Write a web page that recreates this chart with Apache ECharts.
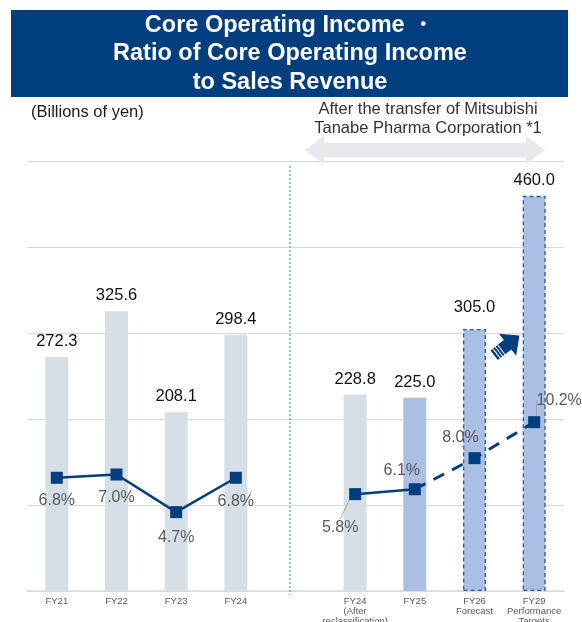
<!DOCTYPE html>
<html>
<head>
<meta charset="utf-8">
<script src="https://cdn.jsdelivr.net/npm/echarts@6/dist/echarts.min.js"></script>
<style>
html,body{margin:0;padding:0;background:#fff;}
#c{width:582px;height:622px;}
</style>
</head>
<body>
<div id="c"></div>
<script>
// ---- data ----
var categories = ['FY21', 'FY22', 'FY23', 'FY24', '', 'FY24\n(After\nreclassification)', 'FY25', 'FY26\nForecast', 'FY29\nPerformance\nTargets'];
var coreIncome = [272.3, 325.6, 208.1, 298.4, null, 228.8, 225.0, 305.0, 460.0];
var ratioPct = [6.8, 7.0, 4.7, 6.8, null, 5.8, 6.1, 8.0, 10.2];
var titleLines = ['Core Operating Income \u30fb', 'Ratio of Core Operating Income', 'to Sales Revenue'];
var unitText = '(Billions of yen)';
var transferText = 'After the transfer of Mitsubishi\nTanabe Pharma Corporation *1';

// ---- styles ----
var FONT = 'Arial, "Liberation Sans", sans-serif';
var NAVY = '#003E7E';
var GRAY_BAR = '#d6dfe5';
var BLUE_BAR = '#aabfe3';
var DASH_BORDER = '#2a5aa0';

// label offsets relative to marker centre (layout only)
var labelOffsets = {0:[0,23],1:[0,23],2:[0,25],3:[0,24],5:[-15,33],6:[-13,-19],7:[-14,-21],8:[25,-22]};
var withLeader = {5:true,7:true,8:true};

var barData = coreIncome.map(function (v, i) {
  if (v == null) return null;
  var item = { value: v, itemStyle: { color: i >= 6 ? BLUE_BAR : GRAY_BAR } };
  if (i >= 7) {
    item.itemStyle.borderColor = DASH_BORDER;
    item.itemStyle.borderWidth = 1.3;
    item.itemStyle.borderType = [4, 3];
  }
  if (i === 7) item.label = { distance: 13 };
  return item;
});

function lineItem(i) {
  return { value: ratioPct[i], labelLine: { show: !!withLeader[i], lineStyle: { color: '#a6a6a6', width: 1 } } };
}
var solidData = ratioPct.map(function (v, i) {
  return (i <= 3 || i === 5 || i === 6) ? lineItem(i) : null;
});
var dashData = ratioPct.map(function (v, i) {
  if (i === 6) return { value: v, symbol: 'none', label: { show: false } };
  if (i >= 7) return lineItem(i);
  return null;
});

var pctLabel = {
  show: true, position: 'inside', fontSize: 16, color: '#595959', fontFamily: FONT,
  formatter: function (p) { return p.value.toFixed(1) + '%'; }
};
function layoutFn(p) {
  var o = labelOffsets[p.dataIndex] || [0, 0];
  return { dx: o[0], dy: o[1] };
}

var chart = echarts.init(document.getElementById('c'), null, { renderer: 'canvas' });
chart.setOption({
  animation: false,
  backgroundColor: '#fff',
  grid: { left: 27, right: 18, top: 161.5, bottom: 31, containLabel: false, outerBoundsMode: 'none' },
  xAxis: {
    type: 'category', data: categories, boundaryGap: true,
    axisLine: { lineStyle: { color: '#d9d9d9', width: 1.5 } },
    axisTick: { show: false },
    axisLabel: { fontSize: 9.5, color: '#595959', lineHeight: 10, margin: 5, interval: 0, fontFamily: FONT }
  },
  yAxis: [
    { type: 'value', min: 0, max: 500, interval: 100,
      axisLabel: { show: false }, axisLine: { show: false }, axisTick: { show: false },
      splitLine: { lineStyle: { color: '#d9d9d9', width: 1.2 } } },
    { type: 'value', min: -0.12, max: 26.13, show: false, splitLine: { show: false } }
  ],
  series: [
    { type: 'bar', data: barData, barWidth: 23, yAxisIndex: 0,
      label: { show: true, position: 'top', distance: 7, fontSize: 16.5, color: '#111', fontFamily: FONT,
        formatter: function (p) { return p.value.toFixed(1); } } },
    { type: 'line', data: solidData, yAxisIndex: 1, connectNulls: false,
      symbol: 'rect', symbolSize: 12, itemStyle: { color: NAVY },
      lineStyle: { color: NAVY, width: 2.5 }, label: pctLabel, labelLayout: layoutFn, z: 5 },
    { type: 'line', data: dashData, yAxisIndex: 1, connectNulls: false,
      symbol: 'rect', symbolSize: 12, itemStyle: { color: NAVY },
      lineStyle: { color: NAVY, width: 3, type: [12, 9] }, label: pctLabel, labelLayout: layoutFn, z: 4 }
  ],
  graphic: [
    { type: 'rect', shape: { x: 11, y: 10, width: 557, height: 87 }, style: { fill: NAVY }, z: 10 },
    { type: 'text', x: 290, y: 26, style: { text: titleLines[0], fill: '#fff', font: 'bold 23.5px ' + FONT, textAlign: 'center', textVerticalAlign: 'middle' }, z: 11 },
    { type: 'text', x: 290, y: 54, style: { text: titleLines[1], fill: '#fff', font: 'bold 23.5px ' + FONT, textAlign: 'center', textVerticalAlign: 'middle' }, z: 11 },
    { type: 'text', x: 290, y: 82.5, style: { text: titleLines[2], fill: '#fff', font: 'bold 23.5px ' + FONT, textAlign: 'center', textVerticalAlign: 'middle' }, z: 11 },
    { type: 'text', x: 31, y: 112, style: { text: unitText, fill: '#1a1a1a', font: '16.5px ' + FONT, textVerticalAlign: 'middle' }, z: 11 },
    { type: 'polygon', shape: { points: [[305,150],[324,136],[324,143],[526,143],[526,136],[545,150],[526,164],[526,157],[324,157],[324,164]] },
      style: { fill: '#e6e9ec' }, z: 1 },
    { type: 'text', x: 428, y: 119, style: { text: transferText, fill: '#333', font: '16.5px ' + FONT, textAlign: 'center', textVerticalAlign: 'middle', lineHeight: 19 }, z: 11 },
    { type: 'line', shape: { x1: 290, y1: 166, x2: 290, y2: 595 }, style: { stroke: '#5b9bd5', lineWidth: 1.3, lineDash: [2, 2] }, z: 11 },
    { type: 'group', x: 506, y: 346, rotation: 38 * Math.PI / 180, z: 11, children: [
      { type: 'polygon', shape: { points: [[-15,-6],[2,-6],[2,-14],[17,0],[2,14],[2,6],[-15,6]] }, style: { fill: NAVY } },
      { type: 'line', shape: { x1: -12, y1: -7, x2: -12, y2: 7 }, style: { stroke: '#fff', lineWidth: 1 } },
      { type: 'line', shape: { x1: -9, y1: -7, x2: -9, y2: 7 }, style: { stroke: '#fff', lineWidth: 1 } },
      { type: 'line', shape: { x1: -6, y1: -7, x2: -6, y2: 7 }, style: { stroke: '#fff', lineWidth: 1 } }
    ] }
  ]
});
</script>
</body>
</html>
